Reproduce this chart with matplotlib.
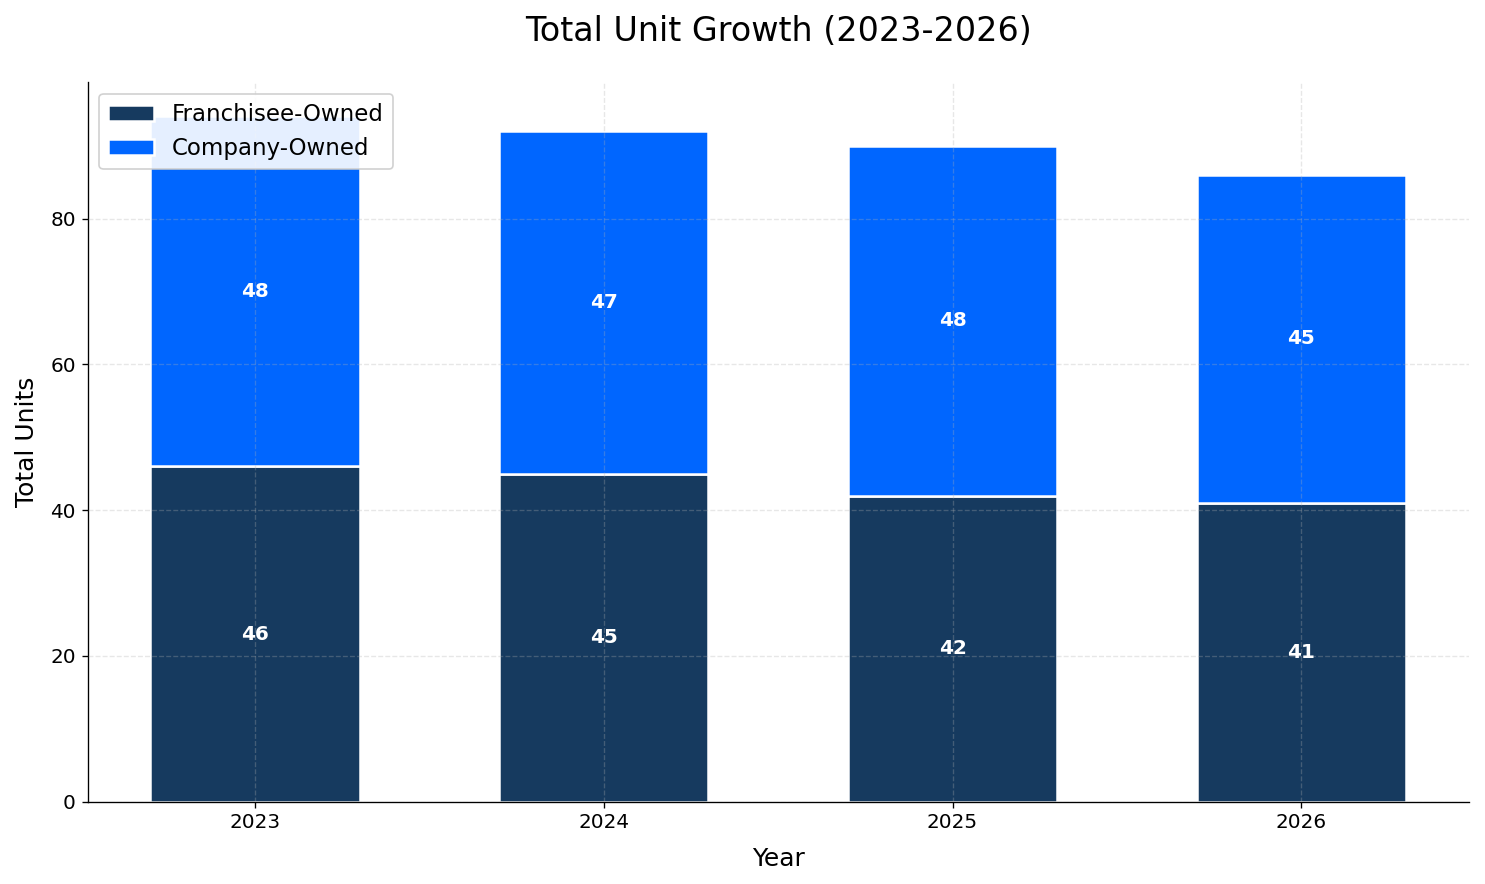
import matplotlib
matplotlib.use("Agg")
import matplotlib.pyplot as plt
import numpy as np

years = ["2023", "2024", "2025", "2026"]
franchisee = [46, 45, 42, 41]
company = [48, 47, 48, 45]

fig, ax = plt.subplots(figsize=(1485 / 120, 884 / 120), dpi=120)
x = np.arange(len(years))
w = 0.6
ax.bar(x, franchisee, w, color="#163A5F", edgecolor="white", linewidth=1.5, label="Franchisee-Owned", zorder=2)
ax.bar(x, company, w, bottom=franchisee, color="#0066FF", edgecolor="white", linewidth=1.5, label="Company-Owned", zorder=2)

for i in range(len(years)):
    ax.text(x[i], franchisee[i] / 2, str(franchisee[i]), ha="center", va="center", color="white", fontsize=12, fontweight="bold", zorder=3)
    ax.text(x[i], franchisee[i] + company[i] / 2, str(company[i]), ha="center", va="center", color="white", fontsize=12, fontweight="bold", zorder=3)

ax.set_xticks(x)
ax.set_xticklabels(years, fontsize=12)
ax.tick_params(axis="y", labelsize=12)
ax.set_xlabel("Year", fontsize=15, labelpad=9)
ax.set_ylabel("Total Units", fontsize=15, labelpad=7)
ax.set_title("Total Unit Growth (2023-2026)", fontsize=20, pad=25)
ax.grid(True, linestyle="--", alpha=0.3, zorder=0)
ax.set_axisbelow(False)
ax.spines["top"].set_visible(False)
ax.spines["right"].set_visible(False)
ax.legend(loc="upper left", fontsize=13.7, framealpha=0.9)
fig.subplots_adjust(left=0.059, right=0.989, top=0.907, bottom=0.093)
fig.savefig("out.png", dpi=120)
